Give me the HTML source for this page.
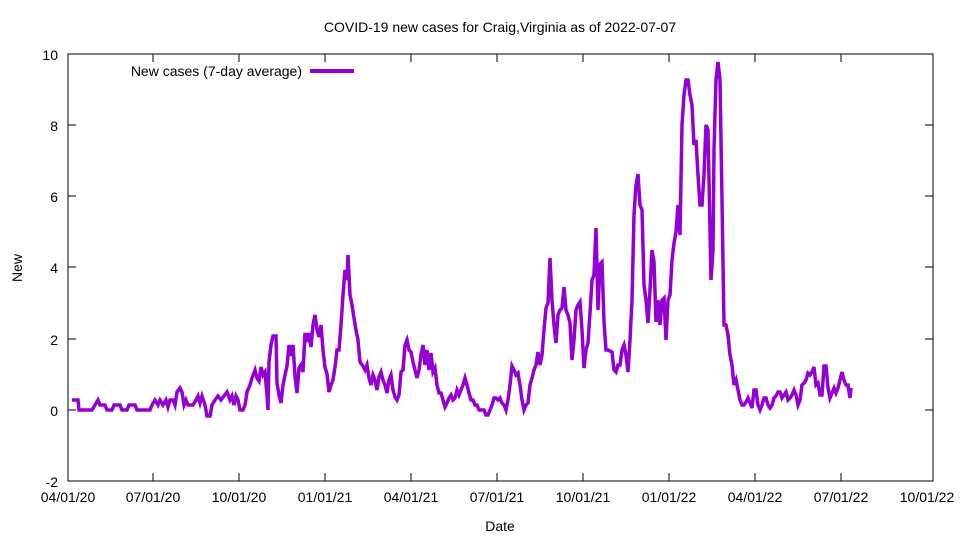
<!DOCTYPE html>
<html><head><meta charset="utf-8"><style>body{margin:0;background:#fff}svg{display:block}text{font-family:"Liberation Sans",sans-serif;font-size:14px;fill:#000}</style></head><body>
<svg width="960" height="540" xmlns="http://www.w3.org/2000/svg">
<rect x="68" y="54" width="865" height="427" fill="none" stroke="#000" stroke-width="1"/>
<g stroke="#000" stroke-width="1">
<path d="M68 481h8M68 410h8M68 339h8M68 267h8M68 196h8M68 125h8M68 54h8M933 481h-8M933 410h-8M933 339h-8M933 267h-8M933 196h-8M933 125h-8M933 54h-8"/>
<path d="M153 481v-8M239 481v-8M325 481v-8M411 481v-8M497 481v-8M583 481v-8M669 481v-8M755 481v-8M841 481v-8M153 54v8M239 54v8M325 54v8M411 54v8M497 54v8M583 54v8M669 54v8M755 54v8M841 54v8"/>
</g>
<g text-anchor="end">
<text x="58" y="487">-2</text><text x="58" y="416">0</text><text x="58" y="345">2</text><text x="58" y="273">4</text><text x="58" y="202">6</text><text x="58" y="131">8</text><text x="58" y="60">10</text>
</g>
<g text-anchor="middle">
<text x="68" y="502">04/01/20</text><text x="153" y="502">07/01/20</text><text x="239" y="502">10/01/20</text><text x="325" y="502">01/01/21</text><text x="411" y="502">04/01/21</text><text x="497" y="502">07/01/21</text><text x="583" y="502">10/01/21</text><text x="669" y="502">01/01/22</text><text x="755" y="502">04/01/22</text><text x="841" y="502">07/01/22</text><text x="927" y="502">10/01/22</text>
<text x="500" y="32">COVID-19 new cases for Craig,Virginia as of 2022-07-07</text>
<text x="500" y="531">Date</text>
</g>
<text x="22" y="268" text-anchor="middle" transform="rotate(-90 22 268)">New</text>
<text x="302" y="76" text-anchor="end">New cases (7-day average)</text>
<path d="M310 71h44" stroke="#9400d3" stroke-width="4"/>
<polyline fill="none" stroke="#9400d3" stroke-width="3.5" stroke-linejoin="miter" points="72,400 78,400 79,410 92,410 95,405 98,400 100,405 105,405 107,410 112,410 114,405 120,405 122,410 127,410 129,405 135,405 137,410 150,410 152,405 155,400 158,405 160,400 163,405 166,400 168,407 170,400 173,400 175,405 177,392 180,388 182,392 184,405 186,400 188,405 193,405 196,400 198,396 200,403 202,396 205,405 207,416 210,416 212,405 215,400 218,396 221,400 224,396 227,392 230,400 232,396 234,405 236,396 238,400 240,410 243,410 245,405 247,392 250,385 252,378 255,370 257,378 259,381 261,367 263,375 265,372 267,395 268,410 269,362 271,345 273,336 276,336 277,383 279,395 281,403 283,385 285,375 287,366 289,345 291,356 293,345 295,376 297,393 299,368 301,365 303,372 305,333 307,342 309,333 311,347 313,325 315,315 317,330 319,337 321,325 323,350 325,367 327,374 329,392 331,385 333,380 335,367 337,350 339,350 341,325 343,295 345,270 347,280 348,255 350,295 352,305 354,318 356,330 358,340 360,362 363,366 365,370 367,365 369,378 371,385 373,375 375,380 377,390 379,377 381,372 383,380 385,385 387,393 389,380 391,375 393,390 395,397 397,400 399,395 401,372 403,370 405,345 407,340 409,350 411,352 413,362 415,370 417,378 419,370 421,355 423,345 425,365 427,350 429,370 431,353 433,372 435,368 437,385 439,393 441,393 443,400 445,407 447,403 449,398 451,395 453,400 455,398 457,390 459,395 461,390 463,385 465,378 467,385 469,393 471,400 473,400 475,405 477,405 479,410 484,410 486,415 488,415 490,410 492,405 494,398 496,398 498,400 500,398 502,403 504,405 506,410 508,400 510,385 512,366 514,370 516,375 518,373 520,385 522,400 524,410 526,405 528,403 530,385 532,378 534,370 536,365 538,352 540,365 542,355 544,330 546,308 548,303 550,258 552,300 554,325 556,343 558,315 560,310 562,308 564,287 566,310 568,315 570,323 572,360 574,340 576,310 578,305 580,302 582,330 584,368 586,350 588,343 590,313 592,280 594,275 596,228 598,310 600,264 602,262 604,322 606,350 608,350 612,352 614,370 616,372 618,365 620,365 622,350 624,345 626,355 628,372 630,340 632,300 634,215 636,185 638,174 640,205 642,210 644,285 646,300 648,323 650,290 652,250 654,262 656,322 658,300 660,325 662,300 664,298 666,340 668,300 670,295 672,260 674,243 676,232 678,205 680,235 682,125 684,95 686,80 688,80 690,95 692,105 694,145 696,140 698,175 700,205 702,205 704,175 706,125 708,130 710,230 711,280 713,250 714,150 716,80 718,62 720,80 722,200 724,325 726,325 728,335 730,355 732,365 734,385 736,380 738,390 740,400 742,405 744,405 746,402 748,398 750,403 752,408 754,390 756,390 758,405 760,410 762,405 764,398 766,398 768,405 770,408 772,405 774,398 776,396 778,392 780,392 782,398 784,395 786,392 788,400 790,398 792,395 794,390 796,395 798,405 800,400 802,385 804,383 806,380 808,373 810,375 812,372 814,367 816,385 818,383 820,395 822,395 824,366 826,366 828,388 830,398 832,393 834,388 836,393 838,388 840,380 842,372 844,380 846,385 848,385 850,398 851,388"/>
</svg>
</body></html>
